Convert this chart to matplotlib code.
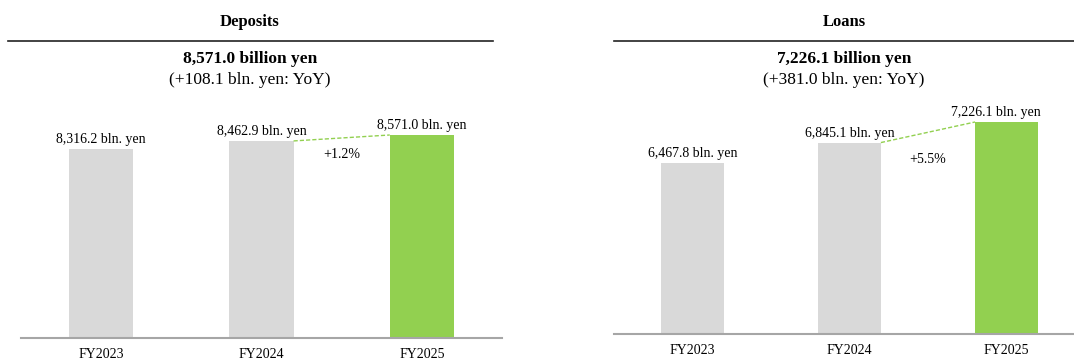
import matplotlib
matplotlib.use("Agg")
import matplotlib.pyplot as plt
from matplotlib.lines import Line2D

plt.rcParams['font.family'] = ['Liberation Serif', 'DejaVu Serif']

categories = ["FY2023", "FY2024", "FY2025"]
deposits = [8316.2, 8462.9, 8571.0]
loans = [6467.8, 6845.1, 7226.1]
titles = ["Deposits", "Loans"]
headline = ["8,571.0 billion yen", "7,226.1 billion yen"]
yoy_text = ["(+108.1 bln. yen: YoY)", "(+381.0 bln. yen: YoY)"]
growth = ["+1.2%", "+5.5%"]

GRAY = "#D9D9D9"
GREEN = "#92D050"
AXIS = "#A6A6A6"

W, H = 1074, 363
fig = plt.figure(figsize=(W / 100, H / 100), dpi=100)

def px_axes(x0, x1, ytop, ybot):
    return fig.add_axes([x0 / W, (H - ybot) / H, (x1 - x0) / W, (ybot - ytop) / H])

panels = [
    dict(vals=deposits, ax=px_axes(21, 502, 130, 338), ylim=(4880, 4880 + 208 / 0.055),
         xlim=(-0.5, 2.5), line=(8, 493), cx=250, pct_off=-17, last_dx=0),
    dict(vals=loans, ax=px_axes(614, 1074, 100, 334), ylim=(3300, 3300 + 234 / 0.054),
         xlim=(-0.5, 2.43), line=(614, 1074), cx=844, pct_off=-27, last_dx=-8),
]

for i, p in enumerate(panels):
    ax = p["ax"]
    vals = p["vals"]
    x = list(range(len(categories)))
    colors = [GRAY, GRAY, GREEN]
    bw = 0.4
    ax.bar(x, vals, width=bw, color=colors, zorder=2)
    ax.set_ylim(*p["ylim"])
    ax.set_xlim(*p["xlim"])
    for s in ["top", "left", "right"]:
        ax.spines[s].set_visible(False)
    ax.spines["bottom"].set_color(AXIS)
    ax.spines["bottom"].set_linewidth(1.5)
    ax.spines["bottom"].set_zorder(3)
    ax.set_yticks([])
    ax.set_xticks(x)
    ax.set_xticklabels(categories, fontsize=10)
    ax.tick_params(axis="x", length=0, pad=7)
    ax.patch.set_alpha(0)
    for j, v in enumerate(vals):
        dx = p["last_dx"] if j == len(vals) - 1 else 0
        ax.annotate(f"{v:,.1f} bln. yen", (x[j], v), xytext=(dx, 2), textcoords="offset points",
                    ha="center", va="bottom", fontsize=10, annotation_clip=False)
    # dashed connector
    x1, x2 = x[1] + bw / 2, x[2] - bw / 2
    ax.plot([x1, x2], [vals[1], vals[2]], color=GREEN, ls=(0, (3, 1.5)), lw=1, zorder=3)
    ax.annotate(growth[i], ((x1 + x2) / 2, (vals[1] + vals[2]) / 2), xytext=(0, p["pct_off"] * 0.72),
                textcoords="offset points", ha="center", va="center", fontsize=10)
    # header
    fig.text(p["cx"] / W, 1 - 22 / H, titles[i], ha="center", va="center", fontsize=12, fontweight="bold")
    fig.add_artist(Line2D([p["line"][0] / W, p["line"][1] / W], [1 - 41 / H, 1 - 41 / H],
                          color="#222222", lw=1.2, transform=fig.transFigure))
    fig.text(p["cx"] / W, 1 - 59 / H, headline[i], ha="center", va="center", fontsize=12.5, fontweight="bold")
    fig.text(p["cx"] / W, 1 - 80 / H, yoy_text[i], ha="center", va="center", fontsize=12.5)

fig.savefig("out.png", dpi=100)
